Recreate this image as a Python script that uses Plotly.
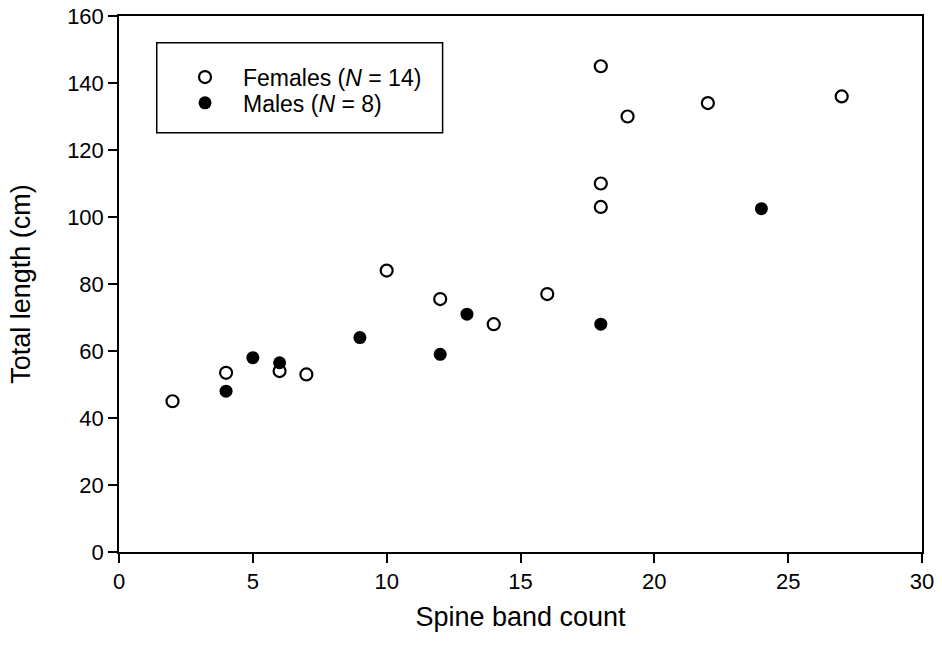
import plotly.graph_objects as go

female_x = [2, 4, 6, 7, 10, 12, 14, 16, 18, 18, 18, 19, 22, 27]
female_y = [45, 53.5, 54, 53, 84, 75.5, 68, 77, 145, 110, 103, 130, 134, 136]
male_x = [4, 5, 6, 9, 12, 13, 18, 24]
male_y = [48, 58, 56.5, 64, 59, 71, 68, 102.5]

x_ticks = [0, 5, 10, 15, 20, 25, 30]
y_ticks = [0, 20, 40, 60, 80, 100, 120, 140, 160]

font = "Liberation Sans, Arial, sans-serif"

fig = go.Figure()
fig.add_trace(go.Scatter(
    x=female_x, y=female_y, mode="markers", name="Females (<i>N</i> = 14)",
    marker=dict(symbol="circle-open", size=12, color="black", line=dict(width=2.2, color="black")),
    legend="legend",
))
fig.add_trace(go.Scatter(
    x=male_x, y=male_y, mode="markers", name="Males (<i>N</i> = 8)",
    marker=dict(symbol="circle", size=13, color="black", line=dict(width=0)),
    legend="legend2",
))

axis_common = dict(
    showline=True, linecolor="black", linewidth=1.5, mirror=True,
    ticks="outside", ticklen=9, tickwidth=1.5, tickcolor="black",
    showgrid=False, zeroline=False, automargin=False,
    tickfont=dict(family=font, size=22, color="black"),
)

leg_common = dict(
    xanchor="left", yanchor="middle",
    borderwidth=0, bgcolor="rgba(0,0,0,0)",
    font=dict(family=font, size=23, color="black"),
    itemsizing="trace", itemwidth=66,
)

fig.update_layout(
    width=942, height=655,
    margin=dict(l=119, r=20, t=16, b=103, autoexpand=False),
    paper_bgcolor="white", plot_bgcolor="white",
    font=dict(family=font, color="black"),
    showlegend=True,
    legend=dict(x=0.0598, y=0.886, **leg_common),
    legend2=dict(x=0.0598, y=0.838, **leg_common),
    xaxis=dict(range=[0, 30], tickvals=x_ticks,
               title=dict(text="Spine band count", font=dict(family=font, size=27), standoff=14),
               **axis_common),
    yaxis=dict(range=[0, 160], tickvals=y_ticks,
               title=dict(text="Total length (cm)", font=dict(family=font, size=27), standoff=29),
               **axis_common),
    shapes=[dict(type="rect", xref="paper", yref="paper",
                 x0=0.047, x1=0.403, y0=0.782, y1=0.950,
                 line=dict(color="black", width=1.5), fillcolor="rgba(0,0,0,0)", layer="below")],
)

fig.write_html("out.html")
